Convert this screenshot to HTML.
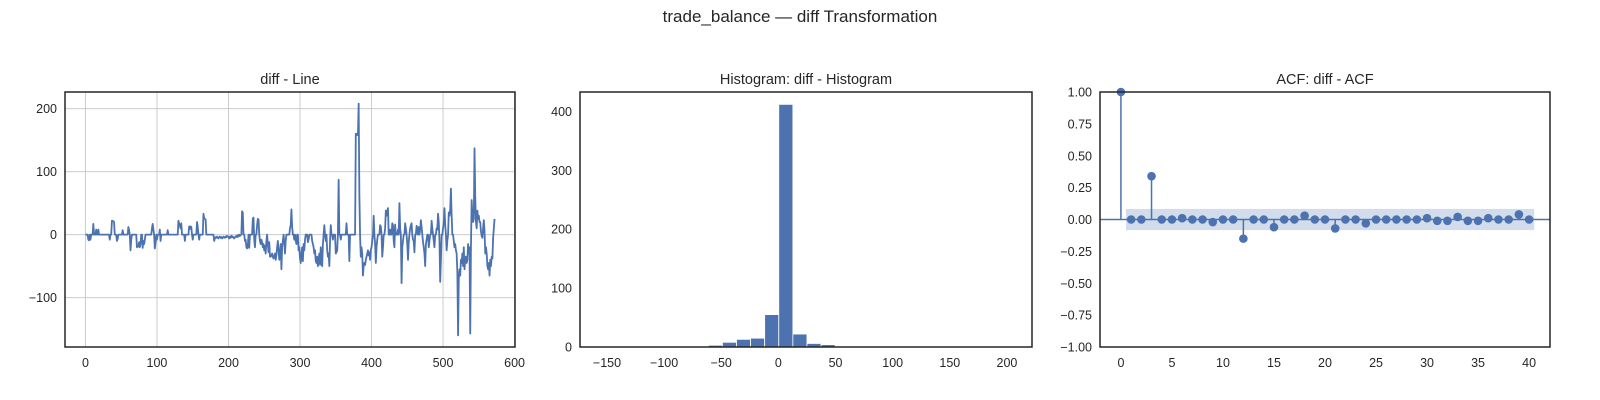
<!DOCTYPE html>
<html><head><meta charset="utf-8"><style>
body{margin:0;background:#fff;}
svg{display:block;font-family:"Liberation Sans",Arial,sans-serif;}
</style></head><body>
<svg id="fig" width="1600" height="400" viewBox="0 0 1600 400">
<rect width="1600" height="400" fill="#fff"/>
<text x="800" y="22" text-anchor="middle" font-size="17" fill="#262626">trade_balance — diff Transformation</text>
<g id="g1"></g>
<g id="g2"></g>
<g id="g3"></g>
</svg>
<script>
const lineValues=[0,0,0,0,-8,-9,0,-8,0,0,0,17,0,0,0,8,0,0,8,0,
0,0,0,0,0,0,0,0,0,0,0,0,0,0,-8,0,0,22,22,21,
20,0,0,0,-10,-7,0,0,0,0,0,0,7,0,0,0,0,0,0,0,
12,7,0,-25,-8,0,0,0,0,0,0,0,-20,-18,-19,-12,-20,-15,0,0,
-21,-10,-15,-8,0,0,0,0,0,0,0,0,0,10,17,8,0,-22,-12,0,
-8,0,0,0,8,-10,0,0,0,0,0,0,0,0,0,7,0,0,0,0,
0,0,0,0,0,0,0,0,0,0,22,18,14,10,18,0,0,0,0,-10,
0,0,0,0,0,13,9,13,12,0,-8,0,0,0,0,0,20,12,0,-8,
0,0,0,0,0,33,26,25,24,0,0,0,0,0,0,0,0,0,0,0,
-10,-6,-4,-5,-3,-5,-6,-4,-3,-5,-4,-6,-5,-3,-4,-5,-3,-4,-2,-3,
-4,-6,-3,-5,-2,-4,-3,-5,-6,-4,-3,-2,-4,-1,-3,0,-2,-1,0,37,
35,0,0,-10,-8,-20,-22,-18,0,-21,0,0,0,0,25,27,-8,-20,0,0,
15,25,24,0,-10,-15,-8,-12,-20,-15,-25,-18,-30,-10,0,-15,-28,-12,-35,-35,
-33,-30,-35,-38,-34,-30,-40,-32,-20,-10,-25,-40,-28,-15,-55,-20,-10,0,-12,-30,
-10,0,0,0,0,0,10,15,40,12,0,0,-8,0,-10,-15,0,0,-25,-20,
-38,-45,-30,-20,-42,-15,-25,-8,0,0,0,-12,-8,0,0,0,0,-10,-15,-20,
-30,-25,-42,-45,-35,-50,-40,-30,-48,-20,-45,-50,-15,0,15,0,-10,0,-25,-35,
-30,-50,-10,15,0,0,-8,0,0,0,-30,-28,-25,0,87,0,0,-8,0,0,
0,0,0,0,0,18,0,0,0,-42,0,0,0,0,0,0,0,0,160,158,
160,158,208,64,-3,-35,-20,-30,-65,-50,-45,-48,-40,-35,-30,-25,-33,-28,-40,-25,
-20,-10,0,30,0,-15,-45,-20,-8,0,0,0,15,13,0,-35,-20,0,0,10,
38,30,38,42,0,0,8,0,0,18,15,-10,-20,16,0,0,0,8,0,50,
10,0,-77,-20,-10,0,0,18,10,0,-15,-40,-12,0,10,15,18,0,-8,-10,
-28,0,0,14,10,0,12,0,8,23,12,0,-12,-20,-30,-50,-15,-8,0,0,
-20,-10,0,0,22,10,0,-10,-20,0,0,10,8,33,20,-10,-75,-40,0,0,
10,20,42,15,0,-25,-10,0,35,30,40,73,30,0,0,-10,-20,-15,-25,-30,
-60,-160,-70,-55,-65,-40,-45,-30,-50,-20,-55,-40,-35,-45,-40,-15,-30,-20,-157,-20,
55,30,20,25,137,60,20,10,38,25,30,20,20,5,-2,-5,10,23,5,-30,
-20,-30,-50,-55,-45,-65,-40,-50,-35,-38,-5,10,25];
const lineXTicks=[0,100,200,300,400,500,600];
const lineYTicks=[-100,0,100,200];

const histEdgesStart=-160, histBinWidth=12.333;
const histCounts=[1,1,0,0,0,0,0,0,3,8,13,15,55,412,22,6,4,1,0,1,0,0,0,0,0,1,0,0,0,1];
const histXTicks=[-150,-100,-50,0,50,100,150,200];
const histYTicks=[0,100,200,300,400];

const acfLags=[0,1,2,3,4,5,6,7,8,9,10,11,12,13,14,15,16,17,18,19,20,21,22,23,24,25,26,27,28,29,30,31,32,33,34,35,36,37,38,39,40];
const acfValues=[1,0,0,0.34,0,0,0.01,0,0,-0.02,0,0,-0.15,0,0,-0.06,0,0,0.03,0,0,-0.07,0,0,-0.03,0,0,0,0,0,0.01,-0.01,-0.01,0.02,-0.01,-0.01,0.01,0,0,0.04,0];
const acfConf=0.083;
const acfXTicks=[0,5,10,15,20,25,30,35,40];
const acfYTicks=[-1,-0.75,-0.5,-0.25,0,0.25,0.5,0.75,1];

const NS="http://www.w3.org/2000/svg";
const BLUE="#4c72b0", INK="#262626";
function mk(p,tag,at,txt){const e=document.createElementNS(NS,tag);for(const k in at)e.setAttribute(k,at[k]);if(txt!==undefined)e.textContent=txt;p.appendChild(e);return e;}
function fmt(v,d){let s=v.toFixed(d);if(v<0)s="\u2212"+s.slice(1);return s;}
const T=92,B=347;

function frame(g,L,R,title,xt,yt,sx,sy,grid,xd,yd){
  const t=mk(g,'text',{x:(L+R)/2,y:T-8,'text-anchor':'middle','font-size':14.5,fill:INK},title);
  
  
  xt.forEach(v=>{const x=sx(v);
    if(grid){const l=mk(g,'line',{x1:x,x2:x,y1:T,y2:B,stroke:'#cccccc','stroke-width':1});}
    const e=mk(g,'text',{x:x,y:B+20,'text-anchor':'middle','font-size':12.5,fill:INK},fmt(v,xd));
    
    });
  yt.forEach(v=>{const y=sy(v);
    if(grid){const l=mk(g,'line',{x1:L,x2:R,y1:y,y2:y,stroke:'#cccccc','stroke-width':1});}
    const e=mk(g,'text',{x:L-8,y:y+4.5,'text-anchor':'end','font-size':12.5,fill:INK},fmt(v,yd));
    
    });
}
function border(g,L,R){const r=mk(g,'rect',{x:L,y:T,width:R-L,height:B-T,fill:'none',stroke:INK,'stroke-width':1.5});
  
  }

(function(){const g=document.getElementById('g1');const L=65,R=515;
  const x0=-28.6,x1=600.6,y0=-178.4,y1=226.4;
  const sx=v=>L+(v-x0)/(x1-x0)*(R-L), sy=v=>B-(v-y0)/(y1-y0)*(B-T);
  frame(g,L,R,'diff - Line',lineXTicks,lineYTicks,sx,sy,true,0,0);
  const d=lineValues.map((v,i)=>(i?'L':'M')+sx(i).toFixed(2)+','+sy(v).toFixed(2)).join('');
  const p=mk(g,'path',{d:d,fill:'none',stroke:BLUE,'stroke-width':1.8,'stroke-linejoin':'round'});
  
  
  border(g,L,R);})();

(function(){const g=document.getElementById('g2');const L=580,R=1032;
  const x0=-173.6,x1=221.9,y0=0,y1=433;
  const sx=v=>L+(v-x0)/(x1-x0)*(R-L), sy=v=>B-(v-y0)/(y1-y0)*(B-T);
  frame(g,L,R,'Histogram: diff - Histogram',histXTicks,histYTicks,sx,sy,false,0,0);
  histCounts.forEach((c,i)=>{if(!c)return;const a=histEdgesStart+i*histBinWidth;
    const r=mk(g,'rect',{x:sx(a),y:sy(c),width:sx(a+histBinWidth)-sx(a),height:sy(0)-sy(c),fill:BLUE,stroke:'#fff','stroke-width':0.8});
    
    });
  border(g,L,R);})();

(function(){const g=document.getElementById('g3');const L=1100,R=1550;
  const x0=-2.05,x1=42.05,y0=-1,y1=1;
  const sx=v=>L+(v-x0)/(x1-x0)*(R-L), sy=v=>B-(v-y0)/(y1-y0)*(B-T);
  frame(g,L,R,'ACF: diff - ACF',acfXTicks,acfYTicks,sx,sy,false,0,2);
  const n=acfLags.length-1;
  const band=mk(g,'rect',{x:sx(0.5),y:sy(acfConf),width:sx(n+0.5)-sx(0.5),height:sy(-acfConf)-sy(acfConf),fill:BLUE,'fill-opacity':0.25});
  
  
  const z=mk(g,'line',{x1:L,x2:R,y1:sy(0),y2:sy(0),stroke:BLUE,'stroke-width':1.5});
  
  
  acfLags.forEach((k,i)=>{const v=acfValues[i];
    const s=mk(g,'line',{x1:sx(k),x2:sx(k),y1:sy(0),y2:sy(v),stroke:BLUE,'stroke-width':1.5});
    
    
    const c=mk(g,'circle',{cx:sx(k),cy:sy(v),r:4.3,fill:BLUE});
    
    });
  border(g,L,R);})();
</script>
</body></html>
